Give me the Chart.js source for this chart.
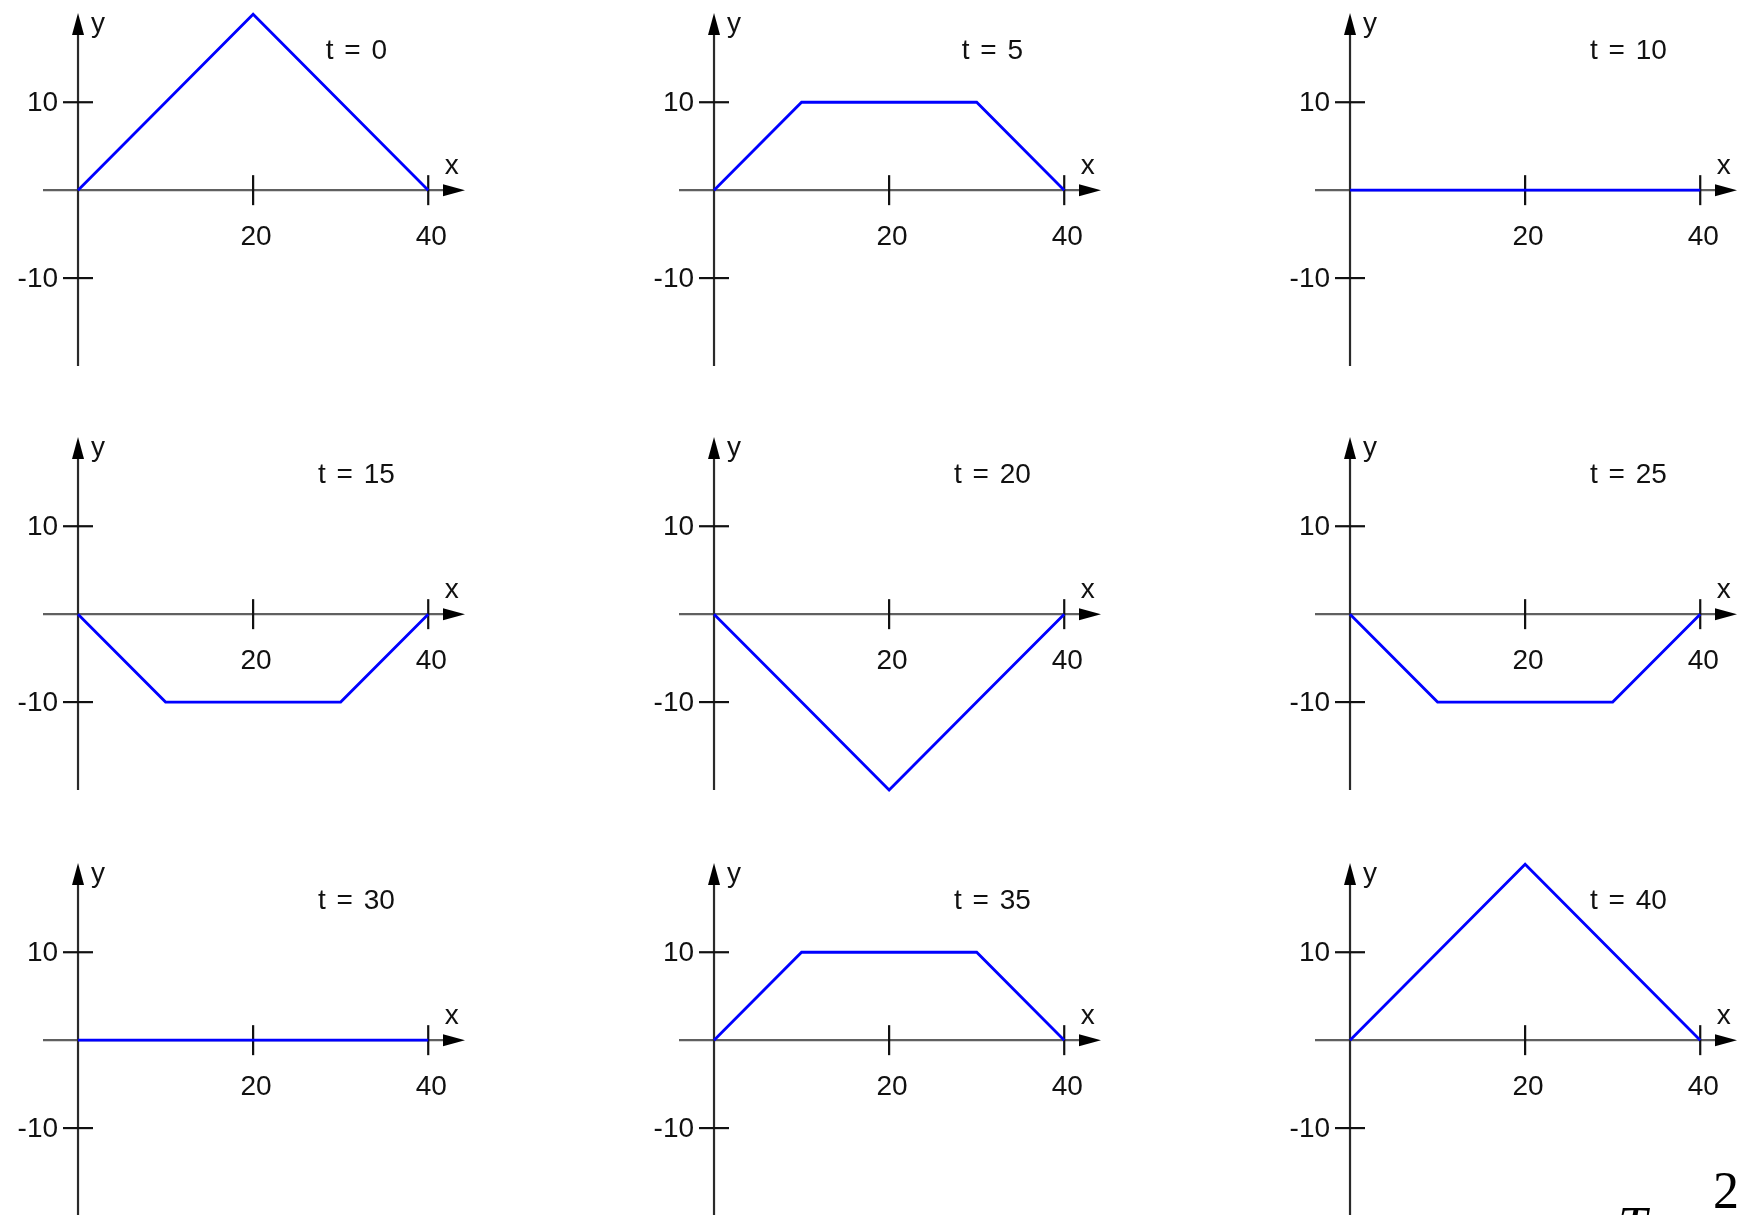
<!DOCTYPE html>
<html><head><meta charset="utf-8">
<script src="https://cdn.jsdelivr.net/npm/chart.js@4/dist/chart.umd.min.js"></script>
<style>
html,body{margin:0;padding:0;background:#fff;overflow:hidden;width:1738px;height:1215px;position:relative}
canvas.panel{position:absolute}
.extra{position:absolute;font-family:"Liberation Serif","DejaVu Serif",serif;font-size:52px;line-height:52px;color:#000;white-space:nowrap}
</style></head><body>
<div class="extra" style="left:1713px;top:1165px">2</div>
<div class="extra" style="left:1618px;top:1200px;font-style:italic">T</div>
<script>
// ---- data ----
const xValues = [0, 10, 20, 30, 40];
const panelTitles = ['t = 0', 't = 5', 't = 10', 't = 15', 't = 20', 't = 25', 't = 30', 't = 35', 't = 40'];
const yT0  = [0, 10, 20, 10, 0];
const yT5  = [0, 10, 10, 10, 0];
const yT10 = [0, 0, 0, 0, 0];
const yT15 = [0, -10, -10, -10, 0];
const yT20 = [0, -10, -20, -10, 0];
const yT25 = [0, -10, -10, -10, 0];
const yT30 = [0, 0, 0, 0, 0];
const yT35 = [0, 10, 10, 10, 0];
const yT40 = [0, 10, 20, 10, 0];
const panelSeries = [yT0, yT5, yT10, yT15, yT20, yT25, yT30, yT35, yT40];
const xTickValues = [20, 40];
const yTickValues = [10, -10];

// ---- layout ----
const PANEL_W = 636, PANEL_H = 425;
const panelLefts = [0, 636, 1272];
const panelTops = [0, 424, 850];
const FONT = '28px "Liberation Sans", Arial, sans-serif';

const axesPlugin = {
  id: 'axesPlugin',
  beforeDatasetsDraw(chart) {
    const ctx = chart.ctx;
    const xs = chart.scales.x, ys = chart.scales.y;
    const x0 = xs.getPixelForValue(0), y0 = ys.getPixelForValue(0);
    const xL = xs.getPixelForValue(xs.min), xR = xs.getPixelForValue(xs.max);
    const yT = ys.getPixelForValue(ys.max), yB = ys.getPixelForValue(ys.min);
    ctx.save();
    // x axis
    ctx.strokeStyle = '#606060';
    ctx.lineWidth = 2.2;
    ctx.beginPath(); ctx.moveTo(xL, y0); ctx.lineTo(xR - 18, y0); ctx.stroke();
    // y axis
    ctx.strokeStyle = '#2a2a2a';
    ctx.beginPath(); ctx.moveTo(x0, yB); ctx.lineTo(x0, yT + 18); ctx.stroke();
    // arrows
    ctx.fillStyle = '#000';
    ctx.beginPath(); ctx.moveTo(xR, y0); ctx.lineTo(xR - 22, y0 - 6); ctx.lineTo(xR - 22, y0 + 6); ctx.closePath(); ctx.fill();
    ctx.beginPath(); ctx.moveTo(x0, yT); ctx.lineTo(x0 - 6, yT + 22); ctx.lineTo(x0 + 6, yT + 22); ctx.closePath(); ctx.fill();
    // ticks
    ctx.strokeStyle = '#111';
    ctx.lineWidth = 2.2;
    ctx.font = FONT;
    ctx.fillStyle = '#111';
    xTickValues.forEach(v => {
      const px = xs.getPixelForValue(v);
      ctx.beginPath(); ctx.moveTo(px, y0 - 15); ctx.lineTo(px, y0 + 15); ctx.stroke();
      ctx.textAlign = 'center'; ctx.textBaseline = 'middle';
      ctx.fillText(String(v), px + 3, y0 + 47);
    });
    yTickValues.forEach(v => {
      const py = ys.getPixelForValue(v);
      ctx.beginPath(); ctx.moveTo(x0 - 15, py); ctx.lineTo(x0 + 15, py); ctx.stroke();
      ctx.textAlign = 'right'; ctx.textBaseline = 'middle';
      ctx.fillText(String(v), x0 - 20, py + 1);
    });
    // axis names
    ctx.textAlign = 'center'; ctx.textBaseline = 'middle';
    ctx.fillText('x', xs.getPixelForValue(42.7), y0 - 24);
    ctx.fillText('y', x0 + 20, ys.getPixelForValue(18.9));
    // title
    try { ctx.wordSpacing = '3px'; } catch (e) {}
    ctx.fillText(chart.options.plugins.axesPlugin.title, xs.getPixelForValue(31.8), ys.getPixelForValue(15.8));
    ctx.restore();
  }
};

panelSeries.forEach((series, i) => {
  const c = document.createElement('canvas');
  c.className = 'panel';
  c.width = PANEL_W; c.height = PANEL_H;
  c.style.left = panelLefts[i % 3] + 'px';
  c.style.top = panelTops[Math.floor(i / 3)] + 'px';
  c.style.width = PANEL_W + 'px'; c.style.height = PANEL_H + 'px';
  document.body.appendChild(c);
  new Chart(c, {
    type: 'line',
    data: {
      datasets: [{
        data: xValues.map((x, k) => ({ x: x, y: series[k] })),
        borderColor: '#0000ff',
        borderWidth: 2.8,
        pointRadius: 0,
        tension: 0,
        clip: false,
        fill: false
      }]
    },
    options: {
      responsive: false,
      animation: false,
      layout: { padding: { left: 43, right: 171, top: 13, bottom: 59 } },
      scales: {
        x: { type: 'linear', min: -4, max: 44.2, display: false },
        y: { type: 'linear', min: -20, max: 20.15, display: false }
      },
      plugins: {
        legend: { display: false },
        tooltip: { enabled: false },
        axesPlugin: { title: panelTitles[i] }
      }
    },
    plugins: [axesPlugin]
  });
});
</script>
</body></html>
